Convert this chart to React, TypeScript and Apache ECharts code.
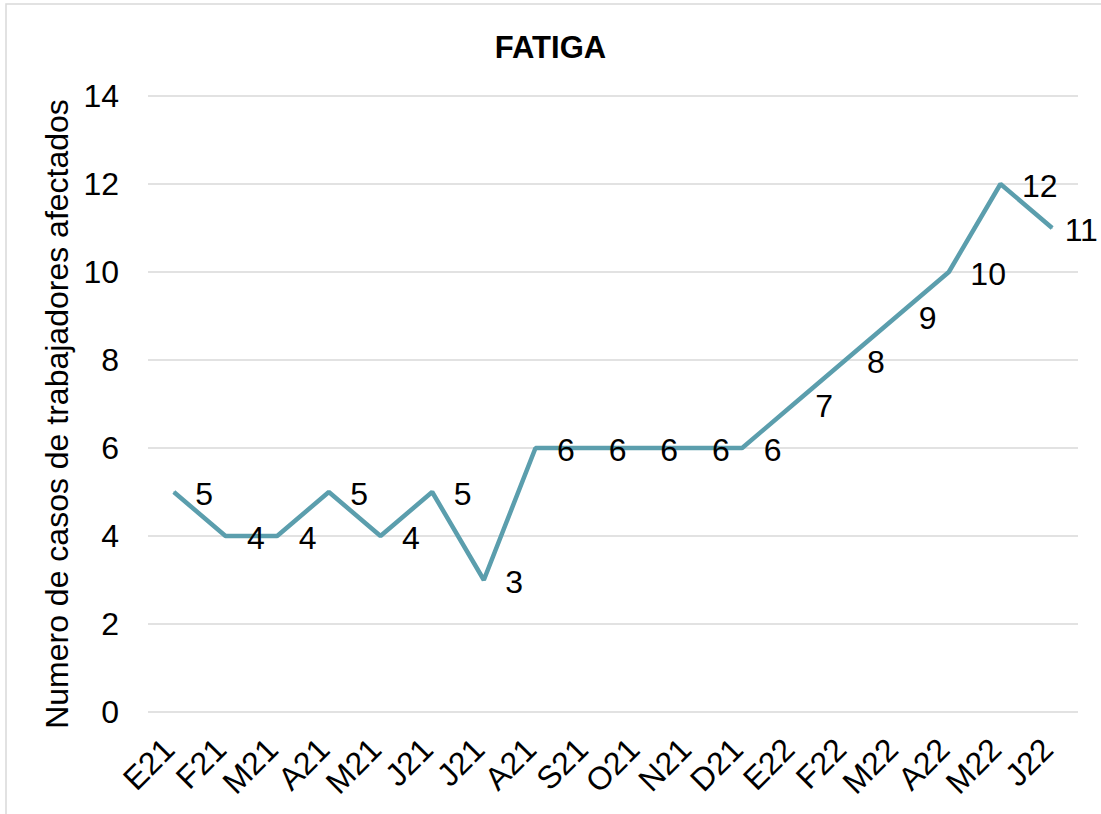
import React, { useEffect, useRef } from "react";
import * as echarts from "echarts";

const categories = ["E21", "F21", "M21", "A21", "M21", "J21", "J21", "A21", "S21", "O21", "N21", "D21", "E22", "F22", "M22", "A22", "M22", "J22"];
const values = [5, 4, 4, 5, 4, 5, 3, 6, 6, 6, 6, 6, 7, 8, 9, 10, 12, 11];
const yTicks = { min: 0, max: 14, interval: 2 };
const titleText = "FATIGA";
const yAxisName = "Numero de casos de trabajadores afectados";

export default function App() {
  const ref = useRef<HTMLDivElement>(null);
  useEffect(() => {
    document.body.style.margin = "0";
    const chart = echarts.init(ref.current!, null, { renderer: "svg" });
    const font = "Liberation Sans";
    const seriesData = values.map((v, i) =>
      i === values.length - 1 ? { value: v, label: { distance: 12 } } : v
    );
    chart.setOption({
      animation: false,
      backgroundColor: "#ffffff",
      textStyle: { fontFamily: font },
      graphic: [
        {
          type: "rect",
          shape: { x: 6, y: 4, width: 1120, height: 830 },
          style: { fill: "none", stroke: "#d9d9d9", lineWidth: 1.5 },
          silent: true,
        },
      ],
      title: {
        text: titleText,
        left: "center",
        top: 27,
        textStyle: { fontFamily: font, fontWeight: "bold", fontSize: 31, color: "#000" },
      },
      grid: { left: 148, right: 23, top: 96, bottom: 102, containLabel: false },
      xAxis: {
        type: "category",
        data: categories,
        boundaryGap: true,
        axisLine: { show: false },
        axisTick: { show: false },
        axisLabel: { rotate: 45, fontSize: 32, color: "#000", margin: 27, padding: [0, 7, 0, 0], fontFamily: font, interval: 0 },
      },
      yAxis: {
        type: "value",
        min: yTicks.min,
        max: yTicks.max,
        interval: yTicks.interval,
        name: yAxisName,
        nameLocation: "middle",
        nameGap: 72,
        nameTextStyle: { fontSize: 32, color: "#000", fontFamily: font, padding: [0, 20, 0, 0] },
        axisLine: { show: false },
        axisTick: { show: false },
        axisLabel: { fontSize: 32, color: "#000", margin: 29, fontFamily: font },
        splitLine: { lineStyle: { color: "#d9d9d9", width: 1.5 } },
      },
      series: [
        {
          type: "line",
          data: seriesData,
          symbol: "circle",
          symbolSize: 1,
          showSymbol: true,
          lineStyle: { color: "#5b9ead", width: 4.5 },
          itemStyle: { color: "#5b9ead" },
          label: {
            show: true,
            position: "right",
            distance: 21,
            offset: [0, 2],
            fontSize: 32,
            color: "#000",
            fontFamily: font,
          },
        },
      ],
    });
    return () => chart.dispose();
  }, []);
  return <div ref={ref} style={{ width: 1101, height: 814 }} />;
}
